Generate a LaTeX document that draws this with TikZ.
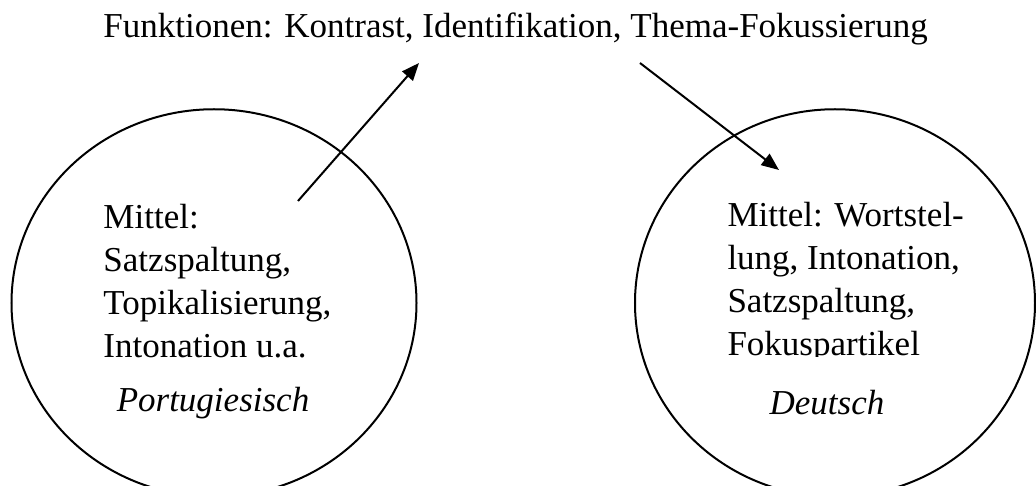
\documentclass[tikz,border=0pt]{standalone}
\usepackage{fontspec}
\setmainfont{Liberation Serif}
\usetikzlibrary{arrows.meta,shapes.geometric}
\tikzset{
  lang/.style={draw, ellipse, line width=0.8pt, minimum width=162pt, minimum height=155pt, inner sep=0pt},
  means/.style={align=left, anchor=base west, inner sep=0pt, font=\fontsize{14}{17.2}\selectfont},
  langname/.style={anchor=base, inner sep=0pt, font=\fontsize{14}{16}\selectfont\itshape},
  link/.style={line width=0.8pt, -{Triangle[length=7pt,width=5.6pt]}}
}
\begin{document}
\begin{tikzpicture}[x=0.4pt,y=-0.4pt]
  \useasboundingbox (0,0) rectangle (1036,486);
  \node[anchor=base west, inner sep=0pt, font=\fontsize{14}{16}\selectfont] (func) at (103,38)
    {Funktionen: Kontrast, Identifikation, Thema-Fokussierung};
  \node[lang] (pt) at (214,303) {};
  \node[lang, minimum width=160pt] (de) at (835,303) {};
  % last line is the base line of the block
  \begin{scope}
    \clip (90,180) rectangle (400,359);
    \node[means] (ptmeans) at (103,358)
      {Mittel:\\ Satzspaltung,\\ Topikalisierung,\\ Intonation u.a.};
  \end{scope}
  \begin{scope}
    \clip (710,180) rectangle (1000,357);
    \node[means] (demeans) at (727,356)
      {Mittel: Wortstel-\\ lung, Intonation,\\ Satzspaltung,\\ Fokuspartikel};
  \end{scope}
  \node[langname] (ptname) at (213,412) {Portugiesisch};
  \node[langname] (dename) at (827,415) {Deutsch};
  % arrows
  \coordinate (ptout) at (298,201);
  \coordinate (funcin) at (419,63);
  \coordinate (funcout) at (640,63);
  \coordinate (dein) at (779,170);
  \draw[link] (ptout) -- (funcin);
  \draw[link] (funcout) -- (dein);
\end{tikzpicture}
\end{document}
